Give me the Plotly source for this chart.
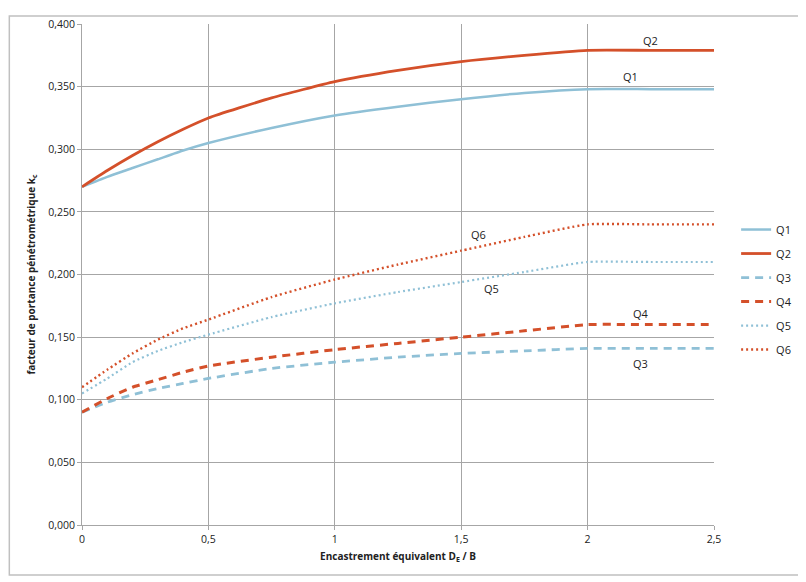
import plotly.graph_objects as go

# --- DATA ---
x_vals = [0, 0.1, 0.2, 0.3, 0.4, 0.5, 0.75, 1, 1.25, 1.5, 1.75, 2, 2.25, 2.5]

q1 = [0.270, 0.278, 0.285, 0.292, 0.299, 0.305, 0.317, 0.327, 0.334, 0.340, 0.345, 0.348, 0.348, 0.348]
q2 = [0.270, 0.283, 0.295, 0.306, 0.316, 0.325, 0.341, 0.354, 0.363, 0.370, 0.375, 0.379, 0.379, 0.379]
q3 = [0.090, 0.098, 0.104, 0.109, 0.113, 0.117, 0.125, 0.130, 0.134, 0.137, 0.139, 0.141, 0.141, 0.141]
q4 = [0.090, 0.101, 0.110, 0.116, 0.122, 0.127, 0.134, 0.140, 0.145, 0.150, 0.155, 0.160, 0.160, 0.160]
q5 = [0.105, 0.117, 0.130, 0.139, 0.146, 0.152, 0.166, 0.177, 0.186, 0.194, 0.202, 0.210, 0.210, 0.210]
q6 = [0.110, 0.124, 0.137, 0.148, 0.157, 0.164, 0.182, 0.196, 0.208, 0.219, 0.230, 0.240, 0.240, 0.240]

series_names = ['Q1', 'Q2', 'Q3', 'Q4', 'Q5', 'Q6']

# in-plot labels: (name, x, y)
label_names = ['Q2', 'Q1', 'Q6', 'Q5', 'Q4', 'Q3']
label_x = [2.25, 2.17, 1.57, 1.62, 2.21, 2.21]
label_y = [0.387, 0.358, 0.232, 0.189, 0.169, 0.129]

x_ticks = [0, 0.5, 1, 1.5, 2, 2.5]
x_ticktext = ['0', '0,5', '1', '1,5', '2', '2,5']
y_ticks = [0, 0.05, 0.1, 0.15, 0.2, 0.25, 0.3, 0.35, 0.4]
y_ticktext = ['0,000', '0,050', '0,100', '0,150', '0,200', '0,250', '0,300', '0,350', '0,400']

BLUE = '#8fc0d6'
RED = '#d4502a'
GRID = '#a6a6a6'
FONT = 'Open Sans'

styles = {
    'Q1': dict(color=BLUE, width=2.5, dash='solid'),
    'Q2': dict(color=RED, width=2.8, dash='solid'),
    'Q3': dict(color=BLUE, width=2.8, dash='8px,6px'),
    'Q4': dict(color=RED, width=3, dash='8px,6px'),
    'Q5': dict(color=BLUE, width=2.2, dash='2px,3px'),
    'Q6': dict(color=RED, width=2.4, dash='2px,3px'),
}

fig = go.Figure()
for name, ys in zip(series_names, [q1, q2, q3, q4, q5, q6]):
    fig.add_trace(go.Scatter(
        x=x_vals, y=ys, mode='lines', name=name, legendgroup=name,
        line=dict(shape='spline', smoothing=0.5, **styles[name])
    ))

for name, lx, ly in zip(label_names, label_x, label_y):
    fig.add_annotation(x=lx, y=ly, text=name, showarrow=False,
                       font=dict(family=FONT, size=11, color='#222'))

# outer chart frame
fig.add_shape(type='rect', xref='paper', yref='paper',
              x0=-0.115, x1=1.142, y0=-0.100, y1=1.016,
              line=dict(color='#c0c0c0', width=1.5))

# page body has an 8px margin, so the figure is a bit smaller than the window
fig.update_layout(
    width=798, height=574,
    plot_bgcolor='white', paper_bgcolor='white',
    margin=dict(l=74, r=91, t=9, b=57),
    font=dict(family=FONT, size=10, color='#222'),
    showlegend=True,
    legend=dict(x=1.035, y=0.47, xanchor='left', yanchor='middle',
                font=dict(size=11), tracegroupgap=5, itemwidth=30),
    xaxis=dict(
        range=[0, 2.5], tickvals=x_ticks, ticktext=x_ticktext,
        showgrid=True, gridcolor=GRID, gridwidth=1,
        showline=True, linecolor=GRID, zeroline=False,
        ticks='outside', ticklen=4, tickcolor=GRID,
        tickfont=dict(size=10.5),
        title=dict(text='<b>Encastrement équivalent D<sub>E</sub> / B</b>',
                   font=dict(size=10), standoff=8),
    ),
    yaxis=dict(
        range=[0, 0.4], tickvals=y_ticks, ticktext=y_ticktext,
        showgrid=True, gridcolor=GRID, gridwidth=1,
        showline=True, linecolor=GRID, zeroline=False,
        ticks='outside', ticklen=4, tickcolor=GRID,
        tickfont=dict(size=10.5),
        title=dict(text='<b>facteur de portance pénétrométrique k<sub>c</sub></b>',
                   font=dict(size=10), standoff=10),
    ),
)

fig.write_html("out.html")
